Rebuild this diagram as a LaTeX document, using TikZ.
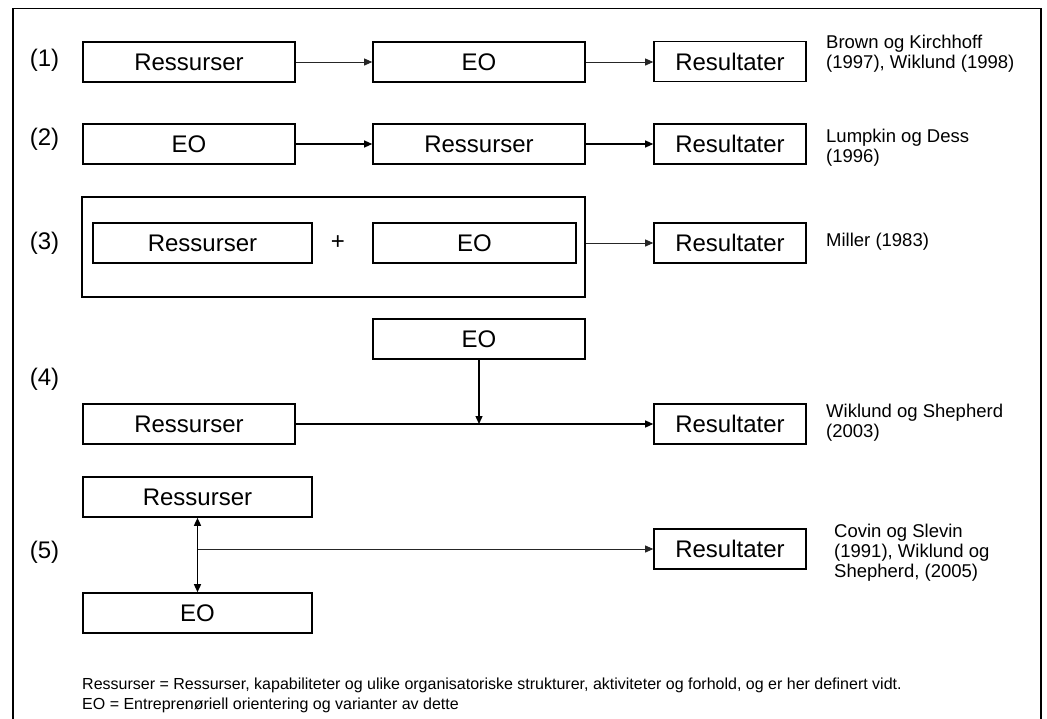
\documentclass[tikz,border=0pt]{standalone}
\usepackage{fontspec}
\setmainfont{Liberation Sans}
\usetikzlibrary{arrows.meta}

\begin{document}
\begin{tikzpicture}[x=1pt,y=-1pt,
  box/.style={draw=black, line width=1.6pt, inner sep=0pt, minimum height=40pt,
              font=\fontsize{24}{28}\selectfont},
  wide/.style={box, minimum width=212pt},
  res/.style={box, minimum width=152pt},
  num/.style={anchor=base, inner sep=0pt, font=\fontsize{24}{28}\selectfont},
  cite/.style={anchor=north west, align=left, inner sep=0pt,
               font=\fontsize{18.5}{20}\selectfont},
  legend/.style={anchor=base west, inner sep=0pt, font=\fontsize{16}{20}\selectfont},
  tip/.style={-{Triangle[length=8pt,width=7pt]}},
  thinlink/.style={tip, line width=0.8pt, draw=black!85},
  boldlink/.style={tip, line width=1.2pt},
  framebar/.style={line width=2.8pt},
]
\useasboundingbox (0,0) rectangle (1047,718);
\clip (0,0) rectangle (1047,718);
\fill[white] (0,0) rectangle (1047,718);

% outer frame (open at the bottom)
\draw[line width=1pt] (13,8) -- (1041,8);
\draw[framebar] (13,8) -- (13,730);
\draw[framebar] (1041,8) -- (1041,730);

% (1) Ressurser -> EO -> Resultater
\node[num] (n1) at (44.5,66) {(1)};
\node[wide] (r1) at (189,62) {Ressurser};
\node[wide] (e1) at (479,62) {EO};
\node[res] (o1) at (730,61.5) {Resultater};
\draw[thinlink] (r1.east) -- (e1.west |- r1.east);
\draw[thinlink] (e1.east) -- (o1.west |- e1.east);
\node[cite] (c1) at (826,34.5) {Brown og Kirchhoff\\(1997), Wiklund (1998)};

% (2) EO -> Ressurser -> Resultater
\node[num] (n2) at (44.5,145) {(2)};
\node[wide] (e2) at (189,144) {EO};
\node[wide] (r2) at (479,144) {Ressurser};
\node[res] (o2) at (730,144) {Resultater};
\draw[boldlink] (e2.east) -- (r2.west);
\draw[boldlink] (r2.east) -- (o2.west);
\node[cite] (c2) at (826,128.5) {Lumpkin og Dess\\(1996)};

% (3) Ressurser + EO -> Resultater
\node[num] (n3) at (44.5,249) {(3)};
\node[draw=black, line width=1.6pt, minimum width=503pt, minimum height=100pt,
      inner sep=0pt] (g3) at (333.5,247) {};
\node[box, minimum width=219pt] (r3) at (202.5,243) {Ressurser};
\node[inner sep=0pt, font=\fontsize{24}{28}\selectfont] (p3) at (338,243) {+};
\node[box, minimum width=203pt] (e3) at (474.5,243) {EO};
\node[res] (o3) at (730,243) {Resultater};
\draw[thinlink] (g3.east |- o3.west) -- (o3.west);
\node[cite] (c3) at (826,232.5) {Miller (1983)};

% (4) EO moderating Ressurser -> Resultater
\node[num] (n4) at (44.5,385) {(4)};
\node[wide] (e4) at (479,339) {EO};
\node[wide] (r4) at (189,424) {Ressurser};
\node[res] (o4) at (730,424) {Resultater};
\coordinate (j4) at (e4.south |- r4.east);
\draw[boldlink] (r4.east) -- (o4.west);
\draw[tip, line width=1.4pt] (e4.south) -- (j4);
\node[cite] (c4) at (826,403.5) {Wiklund og Shepherd\\(2003)};

% (5) Ressurser <-> EO -> Resultater
\node[num] (n5) at (44.5,558) {(5)};
\node[box, minimum width=229pt] (r5) at (197.5,497) {Ressurser};
\node[box, minimum width=229pt] (e5) at (197.5,613) {EO};
\node[res] (o5) at (730,549) {Resultater};
\draw[{Triangle[length=8pt,width=7pt]}-{Triangle[length=8pt,width=7pt]}, line width=1.4pt]
  (r5.south) -- (e5.north);
\coordinate (j5) at (r5.south |- o5.west);
\draw[thinlink] (j5) -- (o5.west);
\node[cite] (c5) at (834,523.5) {Covin og Slevin\\(1991), Wiklund og\\Shepherd, (2005)};

% key to the abbreviations
\node[legend] (k1) at (82,689) {Ressurser = Ressurser, kapabiliteter og ulike organisatoriske strukturer, aktiviteter og forhold, og er her definert vidt.};
\node[legend] (k2) at (82,709) {EO = Entreprenøriell orientering og varianter av dette};
\end{tikzpicture}
\end{document}
